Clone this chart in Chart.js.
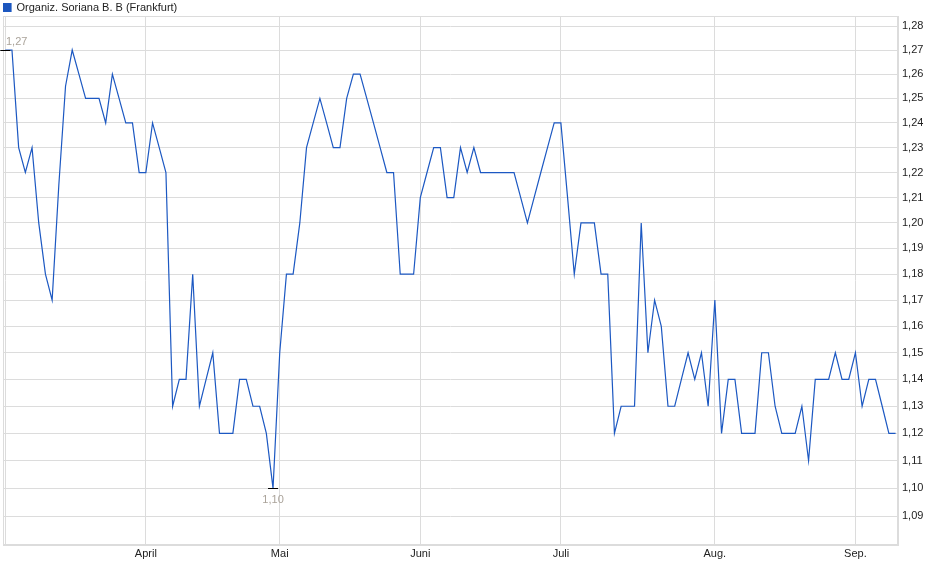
<!DOCTYPE html>
<html>
<head>
<meta charset="utf-8">
<script src="https://cdn.jsdelivr.net/npm/chart.js@4.4.1/dist/chart.umd.min.js"></script>
<style>
    body { margin: 0; background: #fff; }
    #chart { display: block; }
</style>
</head>
<body>
<canvas id="chart" width="940" height="579" style="width:940px;height:579px"></canvas>
<script>
// Daily closing prices, one per Frankfurt trading day (3 Mar - 9 Sep)
const prices = [
    1.27, 1.27, 1.23, 1.22, 1.23, 1.20, 1.18, 1.17, 1.215, 1.255,
    1.27, 1.26, 1.25, 1.25, 1.25, 1.24, 1.26, 1.25, 1.24, 1.24,
    1.22, 1.22, 1.24, 1.23, 1.22, 1.13, 1.14, 1.14, 1.18, 1.13,
    1.14, 1.15, 1.12, 1.12, 1.12, 1.14, 1.14, 1.13, 1.13, 1.12,
    1.10, 1.15, 1.18, 1.18, 1.20, 1.23, 1.24, 1.25, 1.24, 1.23,
    1.23, 1.25, 1.26, 1.26, 1.25, 1.24, 1.23, 1.22, 1.22, 1.18,
    1.18, 1.18, 1.21, 1.22, 1.23, 1.23, 1.21, 1.21, 1.23, 1.22,
    1.23, 1.22, 1.22, 1.22, 1.22, 1.22, 1.22, 1.21, 1.20, 1.21,
    1.22, 1.23, 1.24, 1.24, 1.21, 1.18, 1.20, 1.20, 1.20, 1.18,
    1.18, 1.12, 1.13, 1.13, 1.13, 1.20, 1.15, 1.17, 1.16, 1.13,
    1.13, 1.14, 1.15, 1.14, 1.15, 1.13, 1.17, 1.12, 1.14, 1.14,
    1.12, 1.12, 1.12, 1.15, 1.15, 1.13, 1.12, 1.12, 1.12, 1.13,
    1.11, 1.14, 1.14, 1.14, 1.15, 1.14, 1.14, 1.15, 1.13, 1.14,
    1.14, 1.13, 1.12, 1.12
];

// first trading day of each month (index into prices) and its label
const monthTickIdx = [0, 21, 41, 62, 83, 106, 127];
const monthLabels = ['', 'April', 'Mai', 'Juni', 'Juli', 'Aug.', 'Sep.'];

const yTicks = [1.09, 1.10, 1.11, 1.12, 1.13, 1.14, 1.15, 1.16, 1.17, 1.18,
                1.19, 1.20, 1.21, 1.22, 1.23, 1.24, 1.25, 1.26, 1.27, 1.28];

const seriesName = 'Organiz. Soriana B. B (Frankfurt)';

const FONT = '"Liberation Sans", Arial, sans-serif';
const GRID = '#dcdcdc';
const LINE = '#1c58c2';

function fmt(v) {
    return v.toFixed(2).replace('.', ',');
}

// light frame around the plot area (top/left sides have no axis)
const plotFrame = {
    id: 'plotFrame',
    beforeDatasetsDraw(chart) {
        const { ctx, chartArea: a } = chart;
        ctx.save();
        ctx.strokeStyle = GRID;
        ctx.lineWidth = 1;
        ctx.strokeRect(a.left + 0.5, a.top + 0.5, a.right - a.left - 1, a.bottom - a.top - 1);
        ctx.restore();
    }
};

// high / low markers with their value
const extremaMarks = {
    id: 'extremaMarks',
    afterDatasetsDraw(chart) {
        const { ctx, chartArea, scales: { x, y } } = chart;
        const hi = Math.max(...prices);
        const lo = Math.min(...prices);
        [[prices.indexOf(hi), hi, -9], [prices.indexOf(lo), lo, 11]].forEach(([i, v, dy]) => {
            const px = x.getPixelForValue(i);
            const py = Math.round(y.getPixelForValue(v)) + 0.5;
            ctx.save();
            ctx.strokeStyle = '#000';
            ctx.lineWidth = 1;
            ctx.beginPath();
            ctx.moveTo(px - 5, py);
            ctx.lineTo(px + 5, py);
            ctx.stroke();
            const label = fmt(v);
            ctx.font = '11px ' + FONT;
            const w = ctx.measureText(label).width;
            const cx = Math.max(px, chartArea.left + 3 + w / 2);
            ctx.fillStyle = '#aaa39a';
            ctx.textAlign = 'center';
            ctx.textBaseline = 'middle';
            ctx.fillText(label, cx, py + dy);
            ctx.restore();
        });
    }
};

const ctx = document.getElementById('chart').getContext('2d');
const chart = new Chart(ctx, {
    type: 'line',
    data: {
        datasets: [{
            label: seriesName,
            data: prices.map((p, i) => ({ x: i, y: p })),
            borderColor: LINE,
            backgroundColor: '#1d56bd',
            borderWidth: 1.2,
            pointRadius: 0,
            tension: 0,
            fill: false
        }]
    },
    options: {
        responsive: false,
        animation: false,
        layout: { padding: { left: 3, top: 2, right: 0, bottom: 0 } },
        plugins: {
            legend: {
                position: 'top',
                align: 'start',
                maxHeight: 14,
                labels: {
                    boxWidth: 8,
                    boxHeight: 8,
                    padding: 0,
                    color: '#222',
                    font: { family: FONT, size: 11 }
                }
            },
            tooltip: { enabled: false }
        },
        scales: {
            x: {
                type: 'linear',
                bounds: 'data',
                min: -0.34,
                max: 133.36,
                afterBuildTicks: scale => {
                    scale.ticks = monthTickIdx.map(v => ({ value: v }));
                },
                afterFit: scale => { scale.height = 34; },
                grid: { color: GRID, drawTicks: false },
                border: { display: true, color: GRID },
                ticks: {
                    padding: 2,
                    maxRotation: 0,
                    autoSkip: false,
                    color: '#222',
                    font: { family: FONT, size: 11 },
                    callback: v => {
                        const k = monthTickIdx.indexOf(v);
                        return k >= 0 ? monthLabels[k] : '';
                    }
                }
            },
            y: {
                type: 'logarithmic',
                position: 'right',
                bounds: 'data',
                min: 1.07974,
                max: 1.28425,
                afterBuildTicks: scale => {
                    scale.ticks = yTicks.map(v => ({ value: v }));
                },
                afterFit: scale => { scale.width = 42; },
                grid: { color: GRID, drawTicks: false },
                border: { display: true, color: GRID },
                ticks: {
                    padding: 4,
                    autoSkip: false,
                    color: '#222',
                    font: { family: FONT, size: 11 },
                    callback: v => fmt(v)
                }
            }
        }
    },
    plugins: [plotFrame, extremaMarks]
});
</script>
</body>
</html>
